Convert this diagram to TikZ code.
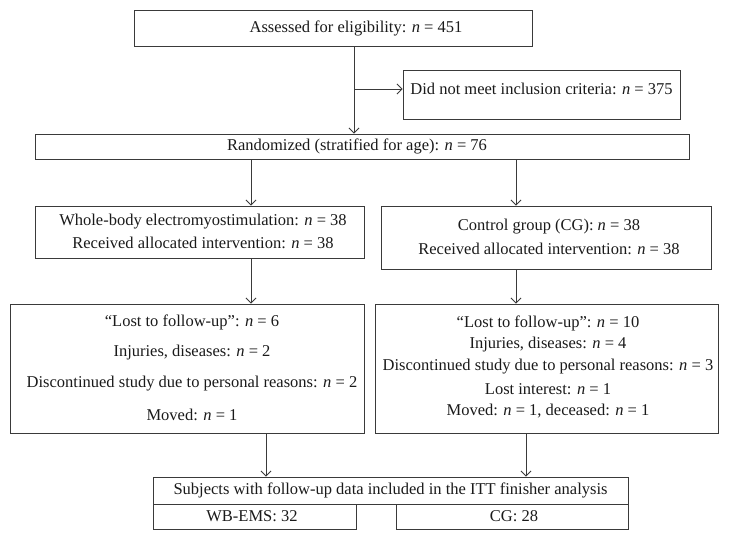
\documentclass[tikz,border=0pt]{standalone}
\usepackage{fontspec}
\setmainfont{Liberation Serif}
\usetikzlibrary{arrows.meta}
\definecolor{linec}{HTML}{3A3A3A}
\definecolor{textc}{HTML}{1A1A1A}
\tikzset{
  x=1pt, y=-1pt,
  box/.style={draw=linec, line width=0.9pt, inner sep=0pt, rectangle},
  txt/.style={inner sep=0pt, text=textc, font=\fontsize{16.5}{19}\selectfont, anchor=center},
  conn/.style={draw=linec, line width=0.9pt, -{Straight Barb[length=5pt,width=10pt,line width=0.9pt]}},
}
\newcommand{\nn}{\textit{n}}
\begin{document}
\begin{tikzpicture}
\useasboundingbox (0,0) rectangle (729,540);
% boxes
\node[box, minimum width=398pt, minimum height=36pt] (assess) at (333,28) {};
\node[box, minimum width=277pt, minimum height=49pt] (dnm) at (541.5,94.5) {};
\node[box, minimum width=654pt, minimum height=25pt] (rand) at (362,146.5) {};
\node[box, minimum width=329pt, minimum height=52pt] (wb) at (199.5,232) {};
\node[box, minimum width=330pt, minimum height=63pt] (cg) at (546,237.5) {};
\node[box, minimum width=354pt, minimum height=129pt] (lostl) at (187,368.5) {};
\node[box, minimum width=343pt, minimum height=129pt] (lostr) at (546.5,368.5) {};
\node[box, minimum width=475pt, minimum height=27pt] (itt) at (390.5,490.5) {};
\node[box, minimum width=203pt, minimum height=25pt] (ittl) at (254.5,516.5) {};
\node[box, minimum width=232pt, minimum height=25pt] (ittr) at (512,516.5) {};
% texts
\node[txt] (t1) at (356,28) {Assessed for eligibility: \nn{} = 451};
\node[txt] (t2) at (541.5,89) {Did not meet inclusion criteria: \nn{} = 375};
\node[txt] (t3) at (357,146.5) {Randomized (stratified for age): \nn{} = 76};
\node[txt] (t4) at (203,222) {Whole-body electromyostimulation: \nn{} = 38};
\node[txt] (t5) at (203,243) {Received allocated intervention: \nn{} = 38};
\node[txt] (t6) at (549,227) {Control group (CG): \nn{} = 38};
\node[txt] (t7) at (549,249) {Received allocated intervention: \nn{} = 38};
\node[txt] (t8) at (192,322) {“Lost to follow-up”: \nn{} = 6};
\node[txt] (t9) at (192,353) {Injuries, diseases: \nn{} = 2};
\node[txt] (t10) at (192,384) {Discontinued study due to personal reasons: \nn{} = 2};
\node[txt] (t11) at (192,415) {Moved: \nn{} = 1};
\node[txt] (t12) at (548,323) {“Lost to follow-up”: \nn{} = 10};
\node[txt] (t13) at (548,345) {Injuries, diseases: \nn{} = 4};
\node[txt] (t14) at (548,367) {Discontinued study due to personal reasons: \nn{} = 3};
\node[txt] (t15) at (548,389) {Lost interest: \nn{} = 1};
\node[txt] (t16) at (548,411) {Moved: \nn{} = 1, deceased: \nn{} = 1};
\node[txt] (t17) at (390.5,490.5) {Subjects with follow-up data included in the ITT finisher analysis};
\node[txt] (t18) at (252,516.5) {WB-EMS: 32};
\node[txt] (t19) at (514,516.5) {CG: 28};
% connector x positions
\coordinate (xa) at (354,0);
\coordinate (br) at (354,89);
\coordinate (xl) at (251,0);
\coordinate (xr) at (516,0);
\coordinate (xbl) at (266,0);
\coordinate (xbr) at (526,0);
% connectors
\draw[conn] (assess.south -| xa) -- (rand.north -| xa);
\draw[conn] (br) -- (br -| dnm.west);
\draw[conn] (rand.south -| xl) -- (wb.north -| xl);
\draw[conn] (rand.south -| xr) -- (cg.north -| xr);
\draw[conn] (wb.south -| xl) -- (lostl.north -| xl);
\draw[conn] (cg.south -| xr) -- (lostr.north -| xr);
\draw[conn] (lostl.south -| xbl) -- (itt.north -| xbl);
\draw[conn] (lostr.south -| xbr) -- (itt.north -| xbr);
\end{tikzpicture}
\end{document}
